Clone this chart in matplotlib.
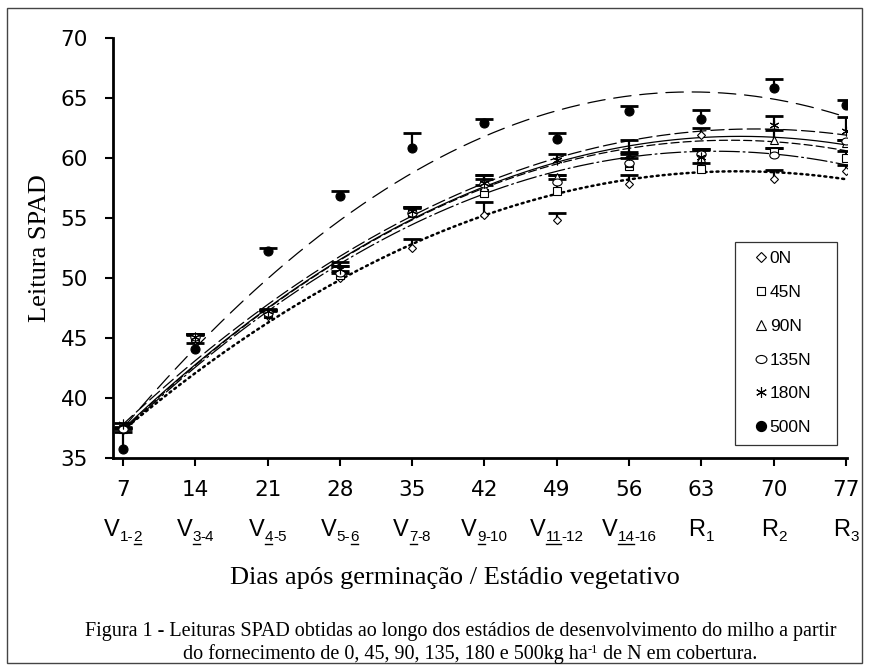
import matplotlib
matplotlib.use("Agg")
import matplotlib.pyplot as plt
import numpy as np
from matplotlib.lines import Line2D
from matplotlib.markers import MarkerStyle
from matplotlib.patches import Rectangle
from matplotlib.transforms import Affine2D, IdentityTransform

# dados
dias = [7, 14, 21, 28, 35, 42, 49, 56, 63, 70, 77]
letras = ["V", "V", "V", "V", "V", "V", "V", "V", "R", "R", "R"]
# (texto, sublinhado)
subs = [
    [("1-", False), ("2", True)],
    [("3", True), ("-4", False)],
    [("4", True), ("-5", False)],
    [("5-", False), ("6", True)],
    [("7", True), ("-8", False)],
    [("9", True), ("-10", False)],
    [("11", True), ("-12", False)],
    [("14", True), ("-16", False)],
    [("1", False)],
    [("2", False)],
    [("3", False)],
]

nomes = ["0N", "45N", "90N", "135N", "180N", "500N"]
spad_0N = [37.3, 44.8, 46.8, 50.0, 52.5, 55.2, 54.8, 57.8, 61.9, 58.2, 58.9]
spad_45N = [37.4, 45.0, 47.0, 50.2, 55.4, 57.1, 57.2, 59.3, 59.1, 60.5, 60.0]
spad_90N = [37.5, 45.0, 47.1, 50.5, 55.5, 57.6, 58.4, 59.6, 60.0, 61.5, 61.2]
spad_135N = [37.4, 45.1, 47.1, 50.4, 55.4, 57.8, 58.0, 59.6, 60.3, 60.2, 61.4]
spad_180N = [37.8, 45.1, 47.2, 50.7, 55.6, 57.9, 59.8, 60.2, 60.1, 62.7, 62.2]
spad_500N = [35.75, 44.05, 52.2, 56.8, 60.8, 62.9, 61.6, 63.86, 63.2, 65.8, 64.4]

erro_0N = [0.1, 0.4, 0.4, 0.4, 0.7, 1.1, 0.6, 0.8, 0.6, 0.8, 0.5]
erro_45N = [0.1, 0.3, 0.3, 0.4, 0.4, 0.6, 1.0, 0.7, 0.5, 0.3, 0.6]
erro_90N = [0.1, 0.3, 0.2, 0.5, 0.4, 0.6, 0.2, 0.7, 0.7, 0.8, 0.3]
erro_135N = [0.1, 0.2, 0.2, 0.6, 0.5, 0.8, 0.6, 0.9, 0.4, 0.6, 0.1]
erro_180N = [0.1, 0.2, 0.2, 0.6, 0.3, 0.7, 0.5, 1.3, 0.6, 0.8, 1.2]
erro_500N = [1.45, 0.5, 0.3, 0.45, 1.26, 0.3, 0.5, 0.44, 0.74, 0.75, 0.4]

# coeficientes das linhas de tendencia (y = c x^2 + b x + a)
tend_0N = [-0.00608, 0.8095, 31.93]
tend_45N = [-0.0071, 0.9135, 31.16]
tend_90N = [-0.00682, 0.911, 31.36]
tend_135N = [-0.00698, 0.919, 31.21]
tend_180N = [-0.00657, 0.896, 31.85]
tend_500N = [-0.00926, 1.148, 29.9]

spad = [spad_0N, spad_45N, spad_90N, spad_135N, spad_180N, spad_500N]
erro = [erro_0N, erro_45N, erro_90N, erro_135N, erro_180N, erro_500N]
tend = [tend_0N, tend_45N, tend_90N, tend_135N, tend_180N, tend_500N]

# estilos
elipse = MarkerStyle("o", transform=Affine2D().scale(1.35, 1.0))
asterisco = (6, 2, 0)
marcadores = ["D", "s", "^", elipse, asterisco, "o"]
tam = [4.5, 5.5, 6, 5, 7, 6.5]
preench = ["white", "white", "white", "white", "white", "black"]
tracos = [(0, (0.8, 1.6)), (0, (16, 3, 1.5, 3)), "-", (0, (6.5, 3.2)),
          (0, (10.5, 4)), (0, (14, 7))]
larg = [1.8, 0.9, 0.9, 0.9, 0.9, 0.9]

fig = plt.figure(figsize=(8.71, 6.68), dpi=100)
ax = fig.add_axes([0.1297, 0.3144, 0.8427, 0.6292])

xs = np.linspace(7, 77, 200)
for i in range(6):
    ax.plot(xs, np.polyval(tend[i], xs), color="black", lw=larg[i],
            ls=tracos[i], dash_capstyle="round", zorder=2)

for i in range(6):
    y = np.array(spad[i])
    e = np.array(erro[i])
    ax.vlines(dias, y, y + e, color="black", lw=1.6, zorder=3)
    ax.plot(dias, y + e, ls="none", marker="_", ms=13, mew=2.0,
            color="black", zorder=3)
    ax.plot(dias, y, ls="none", marker=marcadores[i], ms=tam[i],
            mfc=preench[i], mec="black", mew=0.8, zorder=4)

ax.set_xlim(6.03, 77.1)
ax.set_ylim(35, 70)
ax.set_xticks(dias)
ax.set_yticks(range(35, 71, 5))
for s in ["top", "right"]:
    ax.spines[s].set_visible(False)
for s in ["left", "bottom"]:
    ax.spines[s].set_linewidth(2.0)
ax.tick_params(direction="out", length=5.5, width=1.5, labelsize=15.5)
ax.tick_params(axis="y", pad=12.5)
ax.tick_params(axis="x", pad=10)

ax.set_ylabel("Leitura SPAD", family="Liberation Serif", fontsize=19,
              labelpad=7)

# legenda
handles = [Line2D([], [], ls="none", marker=marcadores[i], ms=tam[i] + 0.8,
                  mfc=preench[i], mec="black", mew=0.8) for i in range(6)]
leg = ax.legend(handles, nomes, loc="upper left",
                bbox_to_anchor=(735 / 871, 1 - 241.7 / 668, 102 / 871, 0),
                bbox_transform=fig.transFigure, mode="expand",
                borderaxespad=0, numpoints=1, fancybox=False,
                prop={"family": "Liberation Sans", "size": 12.5},
                borderpad=0.55, labelspacing=1.07, handlelength=1.9,
                handletextpad=-0.45)
leg.get_frame().set_edgecolor("black")
leg.get_frame().set_linewidth(0.9)

fig.canvas.draw()
ren = fig.canvas.get_renderer()


def compor(xc, yb, pecas, familia):
    # pecas: (texto, tamanho, deslocamento vertical, sublinhado)
    objs = []
    for s, fs, dy, sub in pecas:
        t = fig.text(0, yb + dy, s, transform=IdentityTransform(),
                     family=familia, fontsize=fs, va="baseline")
        objs.append((t, dy, sub))
    ws = [o[0].get_window_extent(ren).width for o in objs]
    x = xc - sum(ws) / 2
    for (t, dy, sub), w in zip(objs, ws):
        t.set_x(x)
        if sub:
            fig.add_artist(Line2D([x + 0.5, x + w - 0.5],
                                  [yb + dy - 2.5] * 2,
                                  transform=IdentityTransform(),
                                  color="black", lw=1.0))
        x += w


# estadios abaixo dos dias
for d, letra, partes in zip(dias, letras, subs):
    xc = ax.transData.transform((d, 50))[0]
    pecas = [(letra, 17, 0, False)] + [(s, 11, -5, u) for s, u in partes]
    compor(xc, 668 - 536, pecas, "Liberation Sans")

fig.text(455 / 871, 1 - 578 / 668, "Dias após germinação / Estádio vegetativo",
         family="Liberation Serif", fontsize=19, ha="center", va="center")
compor(461, 668 - 636,
       [("Figura 1 - Leituras SPAD obtidas ao longo dos estádios de "
         "desenvolvimento do milho a partir", 14.5, 0, False)],
       "Liberation Serif")
compor(470, 668 - 659,
       [("do fornecimento de 0, 45, 90, 135, 180 e 500kg ha", 14.5, 0, False),
        ("-1", 9, 6, False),
        (" de N em cobertura.", 14.5, 0, False)],
       "Liberation Serif")

fig.add_artist(Rectangle((7 / 871, 1 - 663 / 668), 855 / 871, 655 / 668,
                         transform=fig.transFigure, fill=False,
                         edgecolor="#444444", lw=1.0))

fig.savefig("out.png", dpi=100)
